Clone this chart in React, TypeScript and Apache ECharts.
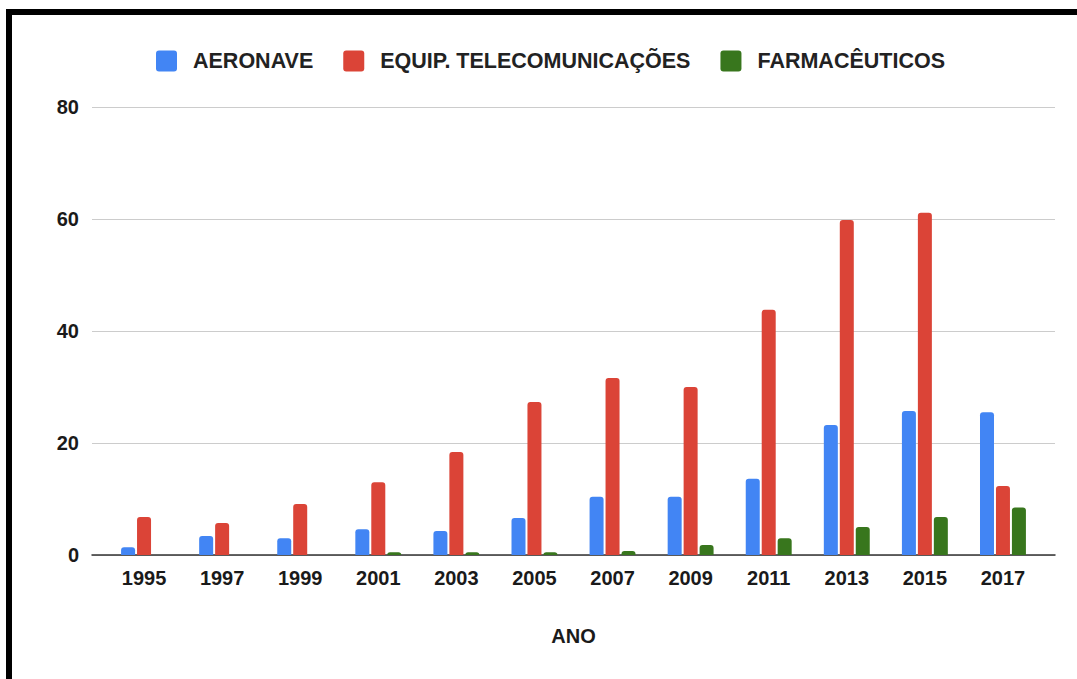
import React, { useEffect, useRef } from "react";
import * as echarts from "echarts";

const years = ["1995", "1997", "1999", "2001", "2003", "2005", "2007", "2009", "2011", "2013", "2015", "2017"];
const aeronave = [1.4, 3.4, 3.0, 4.6, 4.3, 6.6, 10.4, 10.4, 13.6, 23.2, 25.7, 25.5];
const telecom = [6.8, 5.7, 9.1, 13.0, 18.4, 27.3, 31.6, 30.0, 43.8, 59.8, 61.1, 12.3];
const farma = [0, 0, 0, 0.5, 0.5, 0.5, 0.7, 1.8, 3.0, 5.0, 6.8, 8.5];
const yTicks = { min: 0, max: 80, interval: 20 };

const FONT = "'Liberation Sans', Arial, sans-serif";

export default function App() {
  const ref = useRef<HTMLDivElement>(null);
  useEffect(() => {
    if (!ref.current) return;
    const chart = echarts.init(ref.current, undefined, { renderer: "svg" });
    const barBase = {
      type: "bar" as const,
      barWidth: 14,
      barGap: "14%",
      xAxisIndex: 0,
      yAxisIndex: 0,
      itemStyle: { borderRadius: [3, 3, 0, 0] },
    };
    chart.setOption({
      animation: false,
      backgroundColor: "#fff",
      textStyle: { fontFamily: FONT },
      legend: {
        left: 156,
        top: 50,
        padding: 0,
        itemWidth: 21,
        itemHeight: 21,
        itemGap: 30,
        icon: "path://M3,0 H18 A3,3 0 0 1 21,3 V18 A3,3 0 0 1 18,21 H3 A3,3 0 0 1 0,18 V3 A3,3 0 0 1 3,0 Z",
        textStyle: { fontFamily: FONT, fontSize: 21.5, fontWeight: "bold", color: "#222", padding: [0, 0, 0, 11] },
        data: ["AERONAVE", "EQUIP. TELECOMUNICAÇÕES", "FARMACÊUTICOS"],
      },
      grid: [
        { left: 105, right: 35, top: 107, bottom: 124 },
        { left: 92, right: 22, top: 107, bottom: 124 },
      ],
      xAxis: [
        {
          type: "category",
          gridIndex: 0,
          data: years,
          axisLine: { show: false },
          axisTick: { show: false },
          axisLabel: { fontFamily: FONT, fontSize: 20, fontWeight: "bold", color: "#1a1a1a", margin: 13 },
          name: "ANO",
          nameLocation: "middle",
          nameGap: 71,
          nameTextStyle: { fontFamily: FONT, fontSize: 20, fontWeight: "bold", color: "#1a1a1a" },
        },
        {
          type: "value",
          gridIndex: 1,
          min: 0,
          max: 1,
          axisLine: { show: true, lineStyle: { color: "#333", width: 1.5 } },
          axisTick: { show: false },
          axisLabel: { show: false },
          splitLine: { show: false },
        },
      ],
      yAxis: [
        { type: "value", gridIndex: 0, ...yTicks, show: false, splitLine: { show: false } },
        {
          type: "value",
          gridIndex: 1,
          ...yTicks,
          axisLine: { show: false },
          axisTick: { show: false },
          axisLabel: { fontFamily: FONT, fontSize: 20, fontWeight: "bold", color: "#1a1a1a", margin: 13 },
          splitLine: { lineStyle: { color: "#ccc", width: 1.2 } },
        },
      ],
      series: [
        { ...barBase, name: "AERONAVE", data: aeronave, itemStyle: { ...barBase.itemStyle, color: "#4285F4" } },
        { ...barBase, name: "EQUIP. TELECOMUNICAÇÕES", data: telecom, itemStyle: { ...barBase.itemStyle, color: "#DB4437" } },
        { ...barBase, name: "FARMACÊUTICOS", data: farma, itemStyle: { ...barBase.itemStyle, color: "#38761D" } },
      ],
      graphic: [
        { type: "rect", left: 6, top: 9, shape: { width: 1071, height: 6 }, style: { fill: "#000" } },
        { type: "rect", left: 6, top: 9, shape: { width: 6, height: 670 }, style: { fill: "#000" } },
      ],
    });
    return () => chart.dispose();
  }, []);
  return <div ref={ref} style={{ position: "fixed", left: 0, top: 0, width: 1077, height: 679 }} />;
}
